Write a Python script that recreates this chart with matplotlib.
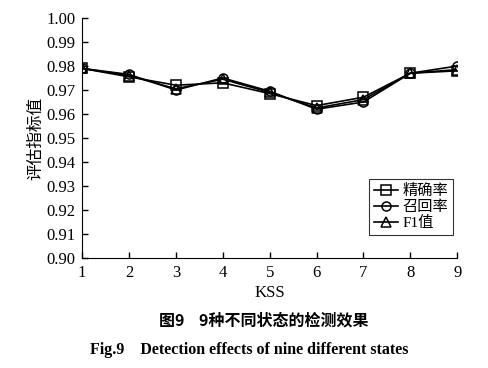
import matplotlib
matplotlib.use('Agg')
import matplotlib.pyplot as plt

plt.rcParams['font.family'] = ['Liberation Serif', 'Noto Sans CJK SC']

# KSS 状态
kss = [1, 2, 3, 4, 5, 6, 7, 8, 9]
# 精确率 / 召回率 / F1值
precision = [0.979, 0.9755, 0.972, 0.973, 0.9685, 0.9635, 0.967, 0.977, 0.978]
recall = [0.979, 0.9765, 0.970, 0.975, 0.9695, 0.962, 0.965, 0.977, 0.980]
f1 = [0.979, 0.976, 0.9705, 0.9745, 0.969, 0.9625, 0.966, 0.977, 0.9785]
yticks = [0.90, 0.91, 0.92, 0.93, 0.94, 0.95, 0.96, 0.97, 0.98, 0.99, 1.00]

fig = plt.figure(figsize=(4.89, 3.68), dpi=100)
ax = fig.add_axes([0.168, 0.299, 0.767, 0.652])

kw = dict(color='black', lw=1.2, markersize=6.5, markerfacecolor='none', markeredgewidth=1.1)
ax.plot(kss, precision, marker='s', label='精确率', **kw)
ax.plot(kss, recall, marker='o', label='召回率', **kw)
ax.plot(kss, f1, marker='^', label='F1值', **kw)

ax.set_xlim(1, 9)
ax.set_ylim(0.90, 1.00)
ax.set_xticks(kss)
ax.set_yticks(yticks)
ax.set_yticklabels(['%.2f' % v for v in yticks])
ax.tick_params(direction='in', length=4, labelsize=12, width=1, pad=5)
ax.spines['top'].set_visible(False)
ax.spines['right'].set_visible(False)
ax.set_xlabel('KSS', fontsize=12, labelpad=3)
ax.set_ylabel('评估指标值', fontsize=12, family=['Noto Sans CJK SC'], labelpad=1)

leg = ax.legend(loc='upper left', bbox_to_anchor=(0.745, 0.36),
                frameon=True, fancybox=False, edgecolor='black', handlelength=1.6,
                handletextpad=0.3, borderpad=0.3, labelspacing=0.15,
                prop={'family': ['Liberation Serif', 'Noto Sans CJK SC'], 'size': 11})
leg.get_frame().set_linewidth(0.8)

fig.text(0.54, 0.13, '图9    9种不同状态的检测效果', ha='center', va='center',
         fontsize=11.5, weight='bold', family=['Noto Sans CJK SC'])
fig.text(0.51, 0.05, 'Fig.9    Detection effects of nine different states', ha='center',
         va='center', fontsize=11.5, weight='bold', family=['Liberation Serif'])

fig.savefig('out.png', dpi=100)
